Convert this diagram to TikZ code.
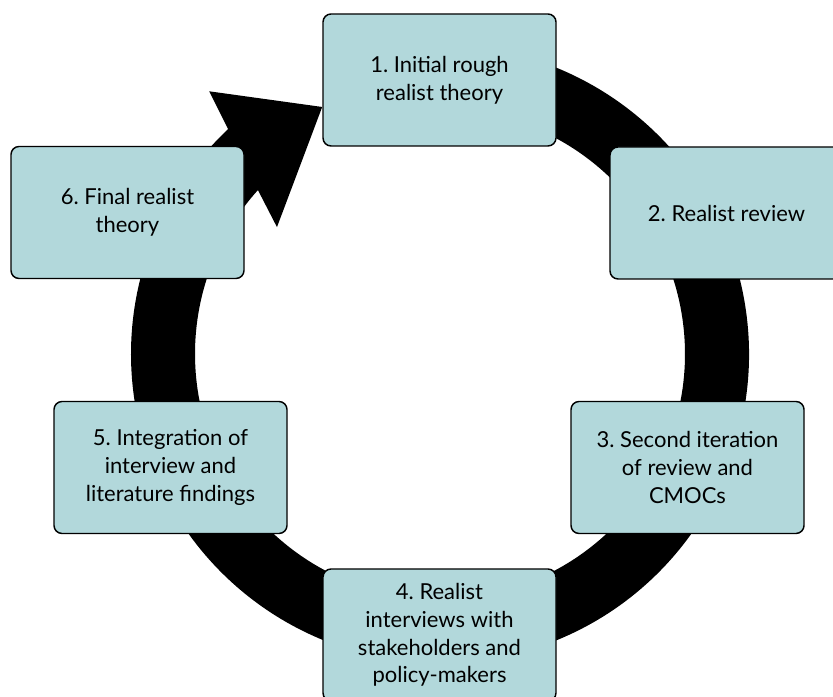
\documentclass[tikz,border=0pt]{standalone}
\usepackage{fontspec}
\setmainfont{Lato}
\usetikzlibrary{calc}
\definecolor{boxteal}{RGB}{178,216,219}
\frenchspacing

\begin{document}
\begin{tikzpicture}[x=0.75pt,y=0.75pt,
    stage/.style={draw, line width=1.1pt, fill=boxteal, rounded corners=6pt,
        minimum width=174.75pt, minimum height=99pt, align=center,
        font=\fontsize{16.5}{20.8}\selectfont}]
    \clip (0,0) rectangle (833,697);
    \coordinate (c) at (440,343);

    % the ring, with its arrow head
    \fill ($(c)+(100:309)$) arc[start angle=100, end angle=-226.7, radius=231.75pt]
        -- ($(c)+(131.3:349.7)$) -- ($(c)+(115.5:273.7)$) -- ($(c)+(142.1:206.6)$)
        -- ($(c)+(138:245)$) arc[start angle=138, end angle=460, radius=183.75pt] -- cycle;

    \node[stage] (s1) at (439.5,617) {1. Initial rough\\realist theory};
    \node[stage] (s2) at (726.5,484) {2. Realist review};
    \node[stage] (s3) at (687.5,229.5) {3. Second iteration\\of review and\\CMOCs};
    \node[stage] (s4) at (439.5,62) {4. Realist\\interviews with\\stakeholders and\\policy-makers};
    \node[stage] (s5) at (170.5,229.5) {5. Integration of\\interview and\\literature findings};
    \node[stage] (s6) at (127.5,484.5) {6. Final realist\\theory};
\end{tikzpicture}
\end{document}
